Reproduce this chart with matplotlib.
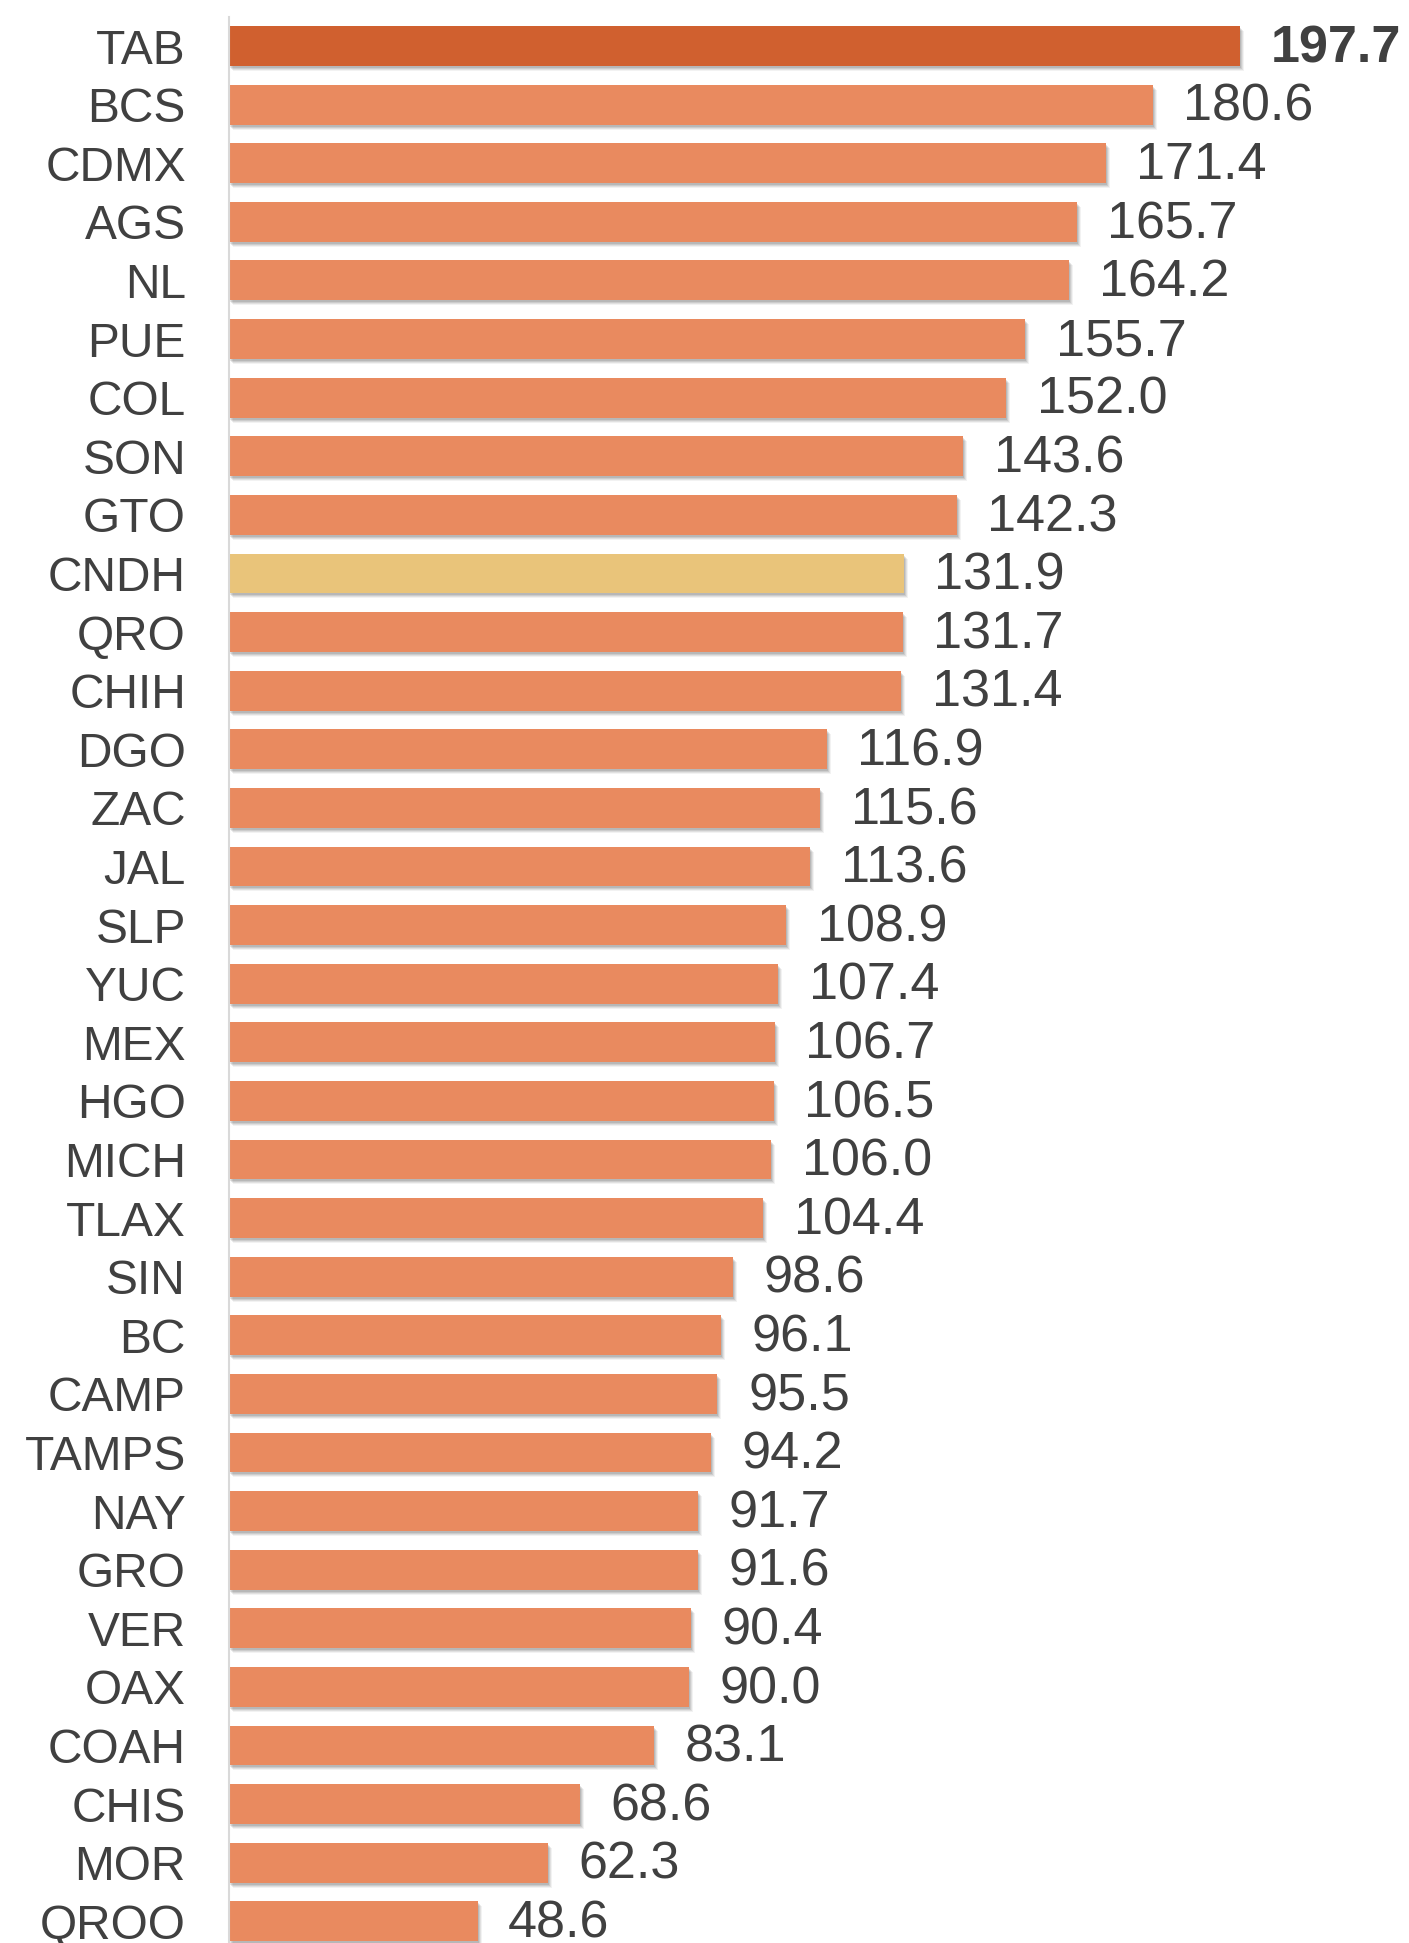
import matplotlib.pyplot as plt
import matplotlib.transforms as mtransforms

states = ["TAB", "BCS", "CDMX", "AGS", "NL", "PUE", "COL", "SON", "GTO", "CNDH",
          "QRO", "CHIH", "DGO", "ZAC", "JAL", "SLP", "YUC", "MEX", "HGO", "MICH",
          "TLAX", "SIN", "BC", "CAMP", "TAMPS", "NAY", "GRO", "VER", "OAX", "COAH",
          "CHIS", "MOR", "QROO"]
values = [197.7, 180.6, 171.4, 165.7, 164.2, 155.7, 152.0, 143.6, 142.3, 131.9,
          131.7, 131.4, 116.9, 115.6, 113.6, 108.9, 107.4, 106.7, 106.5, 106.0,
          104.4, 98.6, 96.1, 95.5, 94.2, 91.7, 91.6, 90.4, 90.0, 83.1,
          68.6, 62.3, 48.6]

base = "#E98A5F"
colors = [base] * len(states)
colors[0] = "#D0602F"
colors[states.index("CNDH")] = "#E9C47A"

plt.rcParams['font.family'] = ['Liberation Sans', 'DejaVu Sans']

fig = plt.figure(figsize=(14.09, 19.43), dpi=100)
ax = fig.add_axes([229 / 1409, 0, 1 - 229 / 1409, 1])

y = list(range(len(states)))
h = 0.68

# soft drop shadow, a few stacked translucent layers
for k, a in [(1.0, 0.10), (2.0, 0.09), (3.0, 0.07), (4.0, 0.05)]:
    shift = mtransforms.ScaledTranslation(k / 100, -(k + 1) / 100, fig.dpi_scale_trans)
    ax.barh(y, values, height=h, color="#000000", alpha=a, zorder=1,
            transform=ax.transData + shift)
ax.barh(y, values, height=h, color=colors, zorder=2)

for i, v in enumerate(values):
    ax.annotate(f"{v:.1f}", (v, i), xytext=(22, -2), textcoords="offset points",
                va="center", ha="left", fontsize=37.5, color="#404040",
                fontweight="bold" if i == 0 else "normal")

ax.set_xlim(0, 230.7)
ax.set_ylim(32.37, -0.785)
ax.set_yticks(y)
ax.set_yticklabels(states, fontsize=34.5, color="#404040")
ax.tick_params(axis="y", length=0, pad=31)
ax.set_xticks([])
for s in ["top", "right", "bottom"]:
    ax.spines[s].set_visible(False)
ax.spines["left"].set_color("#D9D9D9")
ax.spines["left"].set_linewidth(1.5)
ax.spines["left"].set_bounds(-0.5, 32.37)

fig.savefig("out.png", dpi=100)
